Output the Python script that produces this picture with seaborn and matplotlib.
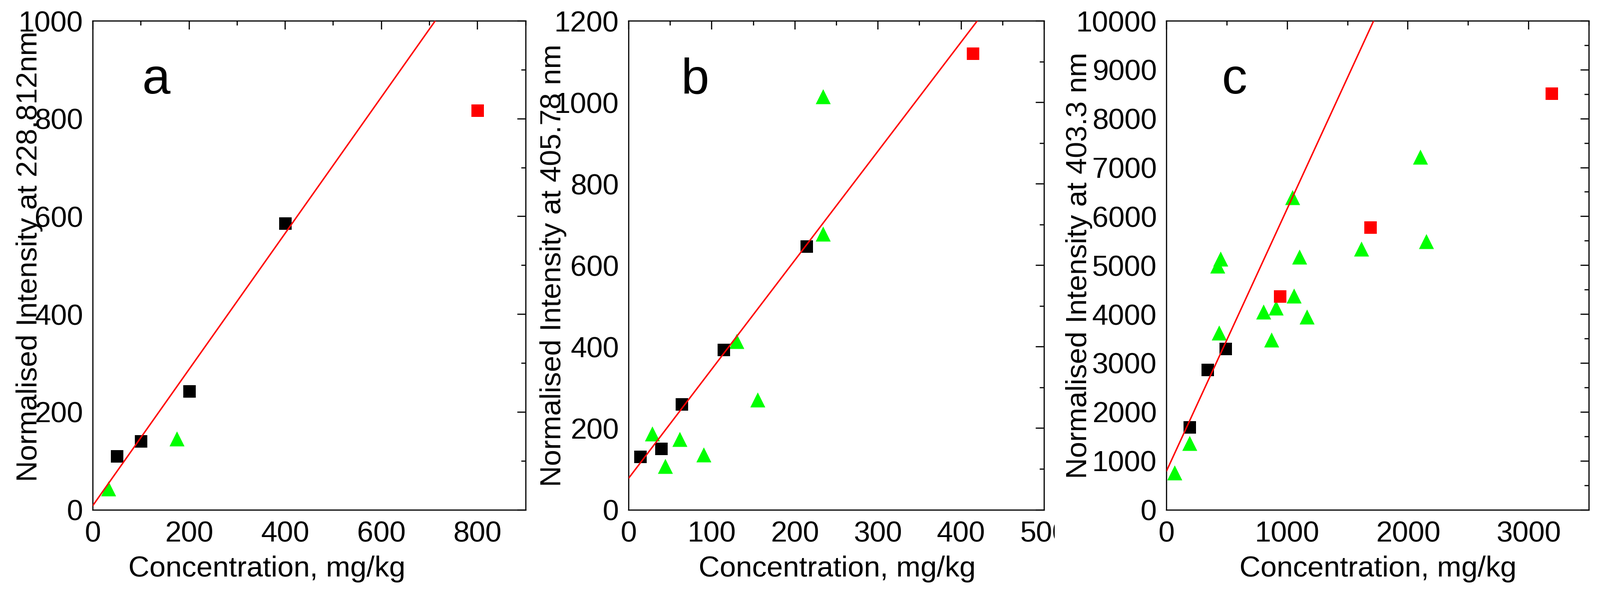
import numpy as np
import pandas as pd
import matplotlib
matplotlib.use("Agg")
import matplotlib.pyplot as plt
import seaborn as sns
from matplotlib.ticker import MultipleLocator
from matplotlib.transforms import Bbox, TransformedBbox

# ---------------- data ----------------
# Panel a
a_black_x = [50, 100, 200, 400]
a_black_y = [110, 141, 243, 586]
a_red_x = [800]
a_red_y = [817]
a_green_x = [32, 174]
a_green_y = [43, 146]

# Panel b
b_black_x = [14, 39, 64, 114, 214]
b_black_y = [131, 150, 259, 393, 647]
b_red_x = [414]
b_red_y = [1120]
b_green_x = [28, 44, 61, 90, 130, 155, 234, 234]
b_green_y = [187, 107, 174, 135, 414, 271, 1015, 678]

# Panel c
c_black_x = [190, 340, 490]
c_black_y = [1690, 2870, 3300]
c_red_x = [940, 1690, 3190]
c_red_y = [4370, 5780, 8520]
c_green_x = [67, 190, 433, 420, 448, 804, 906, 870, 1044, 1054, 1102, 1163, 1614, 2103, 2153]
c_green_y = [758, 1365, 3620, 4990, 5140, 4050, 4130, 3480, 6390, 4380, 5180, 3950, 5340, 7220, 5495]

panel_letters = ["a", "b", "c"]
ylabels = ["Normalised Intensity at 228.812nm",
           "Normalised Intensity at 405.78 nm",
           "Normalised Intensity at 403.3 nm"]
xlabel = "Concentration, mg/kg"

# ---------------- style ----------------
sns.set_theme(style="white")
plt.rcParams["font.family"] = ["Liberation Sans", "DejaVu Sans"]
plt.rcParams["axes.linewidth"] = 1.7
plt.rcParams["xtick.direction"] = "in"
plt.rcParams["ytick.direction"] = "in"

FS = 42
W, H = 3204, 1193
fig = plt.figure(figsize=(W / 100, H / 100), dpi=100)

bottom = 1 - 1020.5 / H
top = 1 - 42 / H
height = top - bottom
axes_px = [(186, 1052.7), (1259, 2091), (2336, 3182)]
axs = [fig.add_axes([l / W, bottom, (r - l) / W, height]) for l, r in axes_px]

panels = [
    dict(bx=a_black_x, by=a_black_y, rx=a_red_x, ry=a_red_y, gx=a_green_x, gy=a_green_y,
         xlim=(0, 900), ylim=(0, 1000), xmaj=200, xmin=100, ymaj=200, ymin=100,
         xlab_x=0.4015, ylab_x=-0.1298, ylab_y=0.518, let_x=0.1465),
    dict(bx=b_black_x, by=b_black_y, rx=b_red_x, ry=b_red_y, gx=b_green_x, gy=b_green_y,
         xlim=(0, 500), ylim=(0, 1200), xmaj=100, xmin=50, ymaj=200, ymin=100,
         xlab_x=0.502, ylab_x=-0.1635, ylab_y=0.5005, let_x=0.159),
    dict(bx=c_black_x, by=c_black_y, rx=c_red_x, ry=c_red_y, gx=c_green_x, gy=c_green_y,
         xlim=(0, 3500), ylim=(0, 10000), xmaj=1000, xmin=500, ymaj=1000, ymin=500,
         xlab_x=0.50, ylab_x=-0.1896, ylab_y=0.50, let_x=0.161),
]

sq_s = 18.0 ** 2
tri_s = 21.6 ** 2

for ax, p, letter, ylab in zip(axs, panels, panel_letters, ylabels):
    ax.set_xlim(*p["xlim"])
    ax.set_ylim(*p["ylim"])
    sns.scatterplot(x=p["gx"], y=p["gy"], ax=ax, marker="^", s=tri_s,
                    color="#00ff00", linewidth=0, zorder=3)
    sns.scatterplot(x=p["bx"], y=p["by"], ax=ax, marker="s", s=sq_s,
                    color="black", linewidth=0, zorder=3)
    sns.scatterplot(x=p["rx"], y=p["ry"], ax=ax, marker="s", s=sq_s,
                    color="#ff0000", linewidth=0, zorder=3)
    sns.regplot(x=p["bx"], y=p["by"], ax=ax, scatter=False, ci=None,
                truncate=False, color="#ff0000",
                line_kws={"lw": 2.1, "zorder": 5})
    ax.set_xlim(*p["xlim"])
    ax.set_ylim(*p["ylim"])

    ax.xaxis.set_major_locator(MultipleLocator(p["xmaj"]))
    ax.xaxis.set_minor_locator(MultipleLocator(p["xmin"]))
    ax.yaxis.set_major_locator(MultipleLocator(p["ymaj"]))
    ax.yaxis.set_minor_locator(MultipleLocator(p["ymin"]))
    ax.tick_params(which="both", direction="in", top=True, right=True,
                   width=1.7, colors="black")
    ax.tick_params(which="major", length=12)
    ax.tick_params(which="minor", length=6.5)
    ax.tick_params(axis="x", which="major", labelsize=FS, pad=16)
    ax.tick_params(axis="y", which="major", labelsize=FS, pad=14)
    for sp in ax.spines.values():
        sp.set_color("black")
        sp.set_linewidth(1.7)

    ax.set_xlabel(xlabel, fontsize=FS, color="black")
    ax.xaxis.set_label_coords(p["xlab_x"], -0.136)
    ax.xaxis.label.set_va("baseline")
    ax.set_ylabel(ylab, fontsize=FS, color="black")
    ax.yaxis.set_label_coords(p["ylab_x"], p["ylab_y"])
    ax.yaxis.label.set_va("baseline")
    ax.yaxis.label.set_ha("center")

    ax.text(p["let_x"], 0.8515, letter, transform=ax.transAxes,
            ha="center", va="baseline", fontsize=73, color="black")

# the "500" label of panel b is cut off in the reference
fig.canvas.draw()
clip = TransformedBbox(Bbox.from_extents(0, 0, 2112 / W, 1), fig.transFigure)
for t in axs[1].xaxis.get_major_ticks():
    t.label1.set_clip_box(clip)
    t.label1.set_clip_on(True)

fig.savefig("out.png", dpi=100, facecolor="white")
